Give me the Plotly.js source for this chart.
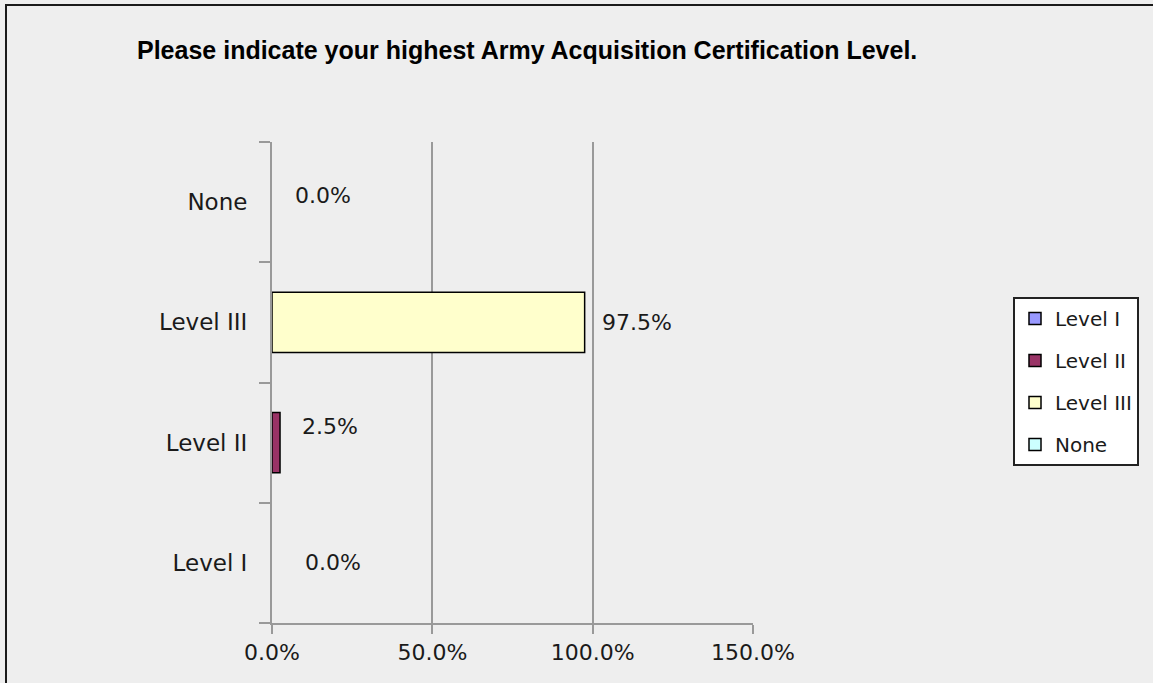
<!DOCTYPE html>
<html>
<head>
<meta charset="utf-8">
<script src="https://cdn.plot.ly/plotly-3.0.1.min.js"></script>
<style>
html,body{margin:0;padding:0;background:#eeeeee;}
#wrap{position:relative;width:1153px;height:683px;overflow:hidden;}
#chart{position:absolute;left:0;top:0;width:1153px;height:683px;}
#frame{position:absolute;left:5px;top:4px;width:1200px;height:800px;border-left:2px solid #1a1a1a;border-top:2px solid #1a1a1a;pointer-events:none;}
</style>
</head>
<body>
<div id="wrap"><div id="chart"></div><div id="frame"></div></div>
<script>
const categories = ["Level I", "Level II", "Level III", "None"];
const seriesNames = ["Level I", "Level II", "Level III", "None"];
const values = [0.0, 0.025, 0.975, 0.0];
const valueLabels = ["0.0%", "2.5%", "97.5%", "0.0%"];
const colors = ["#9999FF", "#993366", "#FFFFCC", "#CCFFFF"];
const xTicks = [0, 0.5, 1.0, 1.5];
const xTickLabels = ["0.0%", "50.0%", "100.0%", "150.0%"];
const labelShift = [[31, 0], [20, 16], [15, 0], [21, 7]];

const font = "DejaVu Sans, Verdana, sans-serif";

// zero-length bars are not drawn (no outline stub), but still appear in the legend
const traces = seriesNames.map((name, i) => ({
  type: "bar",
  orientation: "h",
  name: name,
  x: [values[i] === 0 ? null : values[i]],
  y: [categories[i]],
  width: 0.5,
  marker: {color: colors[i], line: {color: "#000000", width: 1.5}},
  legendgroup: "g" + i,
  hoverinfo: "skip"
}));

const annotations = categories.map((c, i) => ({
  x: values[i], y: c, xref: "x", yref: "y",
  text: valueLabels[i], showarrow: false,
  xanchor: "left", yanchor: "middle",
  xshift: labelShift[i][0], yshift: labelShift[i][1],
  font: {family: font, size: 22, color: "#1a1a1a"}
}));

const layout = {
  width: 1153, height: 683,
  paper_bgcolor: "#eeeeee", plot_bgcolor: "#eeeeee",
  margin: {l: 272, r: 400, t: 142, b: 60, pad: 0},
  barmode: "overlay",
  showlegend: true,
  title: {
    text: "<b>Please indicate your highest Army Acquisition Certification Level.</b>",
    x: 137/1153, xref: "container", xanchor: "left",
    y: 1 - 50/683, yref: "container", yanchor: "middle",
    font: {family: "Liberation Sans Narrow, Arial Narrow, Liberation Sans, sans-serif", size: 25, color: "#000000"}
  },
  xaxis: {
    range: [0, 1.5],
    tickvals: xTicks, ticktext: xTickLabels,
    showgrid: true, gridcolor: "#999999", gridwidth: 2,
    showline: true, linecolor: "#999999", linewidth: 2,
    ticks: "outside", ticklen: 9, tickwidth: 2, tickcolor: "#999999",
    zeroline: false,
    tickfont: {family: font, size: 22, color: "#1a1a1a"},
    fixedrange: true
  },
  yaxis: {
    type: "category",
    categoryorder: "array", categoryarray: categories,
    range: [-0.5, 3.5],
    showgrid: false,
    showline: true, linecolor: "#999999", linewidth: 2,
    ticks: "outside", ticklen: 11, tickwidth: 2, tickcolor: "#999999",
    tickson: "boundaries",
    ticklabelstandoff: 18,
    tickfont: {family: font, size: 23, color: "#1a1a1a"},
    zeroline: false,
    fixedrange: true
  },
  legend: {
    x: (1013-272)/481, xanchor: "left",
    y: (623-297)/481, yanchor: "top",
    bgcolor: "#ffffff", bordercolor: "#222222", borderwidth: 2,
    traceorder: "grouped", tracegroupgap: 13,
    font: {family: font, size: 20, color: "#1a1a1a"},
    itemwidth: 30
  },
  annotations: annotations
};

Plotly.newPlot("chart", traces, layout, {staticPlot: true, displayModeBar: false});
</script>
</body>
</html>
